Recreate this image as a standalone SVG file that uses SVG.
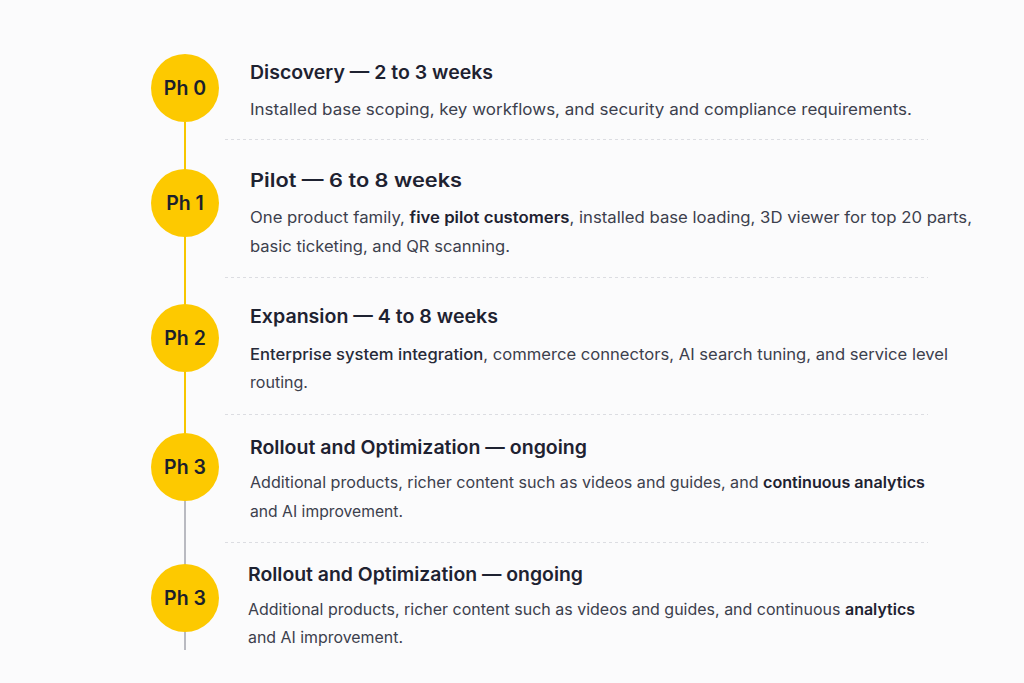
<svg xmlns="http://www.w3.org/2000/svg" width="1024" height="683" viewBox="0 0 1024 683">
<style>
.bg{fill:#fbfbfc}
.dot{fill:#fdc900}
.ph{font-family:Inter,"Noto Sans",sans-serif;font-size:19.5px;font-weight:600;fill:#1b1f2c;text-anchor:middle}
.t{font-family:Inter,"Noto Sans",sans-serif;font-size:18.5px;font-weight:600;fill:#1e2231}
.b{font-family:Inter,"Noto Sans",sans-serif;font-size:15.5px;font-weight:400;fill:#3c404d}
.s{font-weight:600;fill:#1e2231}
.m{font-weight:500;fill:#262a38}
.sep{stroke:#dcdde2;stroke-width:1;stroke-dasharray:3 3}
.ly{stroke:#f7c600;stroke-width:2}
.lg{stroke:#b9bac1;stroke-width:2}
</style>
<rect class="bg" x="0" y="0" width="1024" height="683"/>
<g id="connectors">
<line class="ly" x1="185" y1="122" x2="185" y2="170"/>
<line class="ly" x1="185" y1="236" x2="185" y2="305"/>
<line class="ly" x1="185" y1="371" x2="185" y2="434"/>
<line class="lg" x1="185" y1="500" x2="185" y2="565"/>
<line class="lg" x1="185" y1="631" x2="185" y2="650"/>
</g>
<g id="separators">
<line class="sep" x1="225" y1="139.5" x2="928" y2="139.5"/>
<line class="sep" x1="225" y1="277.5" x2="928" y2="277.5"/>
<line class="sep" x1="225" y1="414.5" x2="928" y2="414.5"/>
<line class="sep" x1="225" y1="542.5" x2="928" y2="542.5"/>
</g>
<g id="ph0">
<circle class="dot" cx="185" cy="88" r="34"/>
<text class="ph" x="185" y="95">Ph 0</text>
<text class="t" x="250" y="79" textLength="243" lengthAdjust="spacingAndGlyphs">Discovery — 2 to 3 weeks</text>
<text class="b" x="250" y="115" textLength="662" lengthAdjust="spacingAndGlyphs">Installed base scoping, key workflows, and security and compliance requirements.</text>
</g>
<g id="ph1">
<circle class="dot" cx="185" cy="203" r="34"/>
<text class="ph" x="185" y="210">Ph 1</text>
<text class="t" x="250" y="187" textLength="212" lengthAdjust="spacingAndGlyphs">Pilot — 6 to 8 weeks</text>
<text class="b" x="250" y="223" textLength="722" lengthAdjust="spacingAndGlyphs">One product family, <tspan class="s">five pilot customers</tspan>, installed base loading, 3D viewer for top 20 parts,</text>
<text class="b" x="250" y="252" textLength="260" lengthAdjust="spacingAndGlyphs">basic ticketing, and QR scanning.</text>
</g>
<g id="ph2">
<circle class="dot" cx="185" cy="338" r="34"/>
<text class="ph" x="185" y="345">Ph 2</text>
<text class="t" x="250" y="323" textLength="248" lengthAdjust="spacingAndGlyphs">Expansion — 4 to 8 weeks</text>
<text class="b" x="250" y="360" textLength="698" lengthAdjust="spacingAndGlyphs"><tspan class="m">Enterprise system integration</tspan>, commerce connectors, AI search tuning, and service level</text>
<text class="b" x="250" y="388" textLength="58" lengthAdjust="spacingAndGlyphs">routing.</text>
</g>
<g id="ph3">
<circle class="dot" cx="185" cy="467" r="34"/>
<text class="ph" x="185" y="474">Ph 3</text>
<text class="t" x="250" y="454" textLength="337" lengthAdjust="spacingAndGlyphs">Rollout and Optimization — ongoing</text>
<text class="b" x="250" y="488" textLength="675" lengthAdjust="spacingAndGlyphs">Additional products, richer content such as videos and guides, and <tspan class="s">continuous analytics</tspan></text>
<text class="b" x="250" y="517" textLength="153" lengthAdjust="spacingAndGlyphs">and AI improvement.</text>
</g>
<g id="ph3b">
<circle class="dot" cx="185" cy="598" r="34"/>
<text class="ph" x="185" y="605">Ph 3</text>
<text class="t" x="248" y="581" textLength="335" lengthAdjust="spacingAndGlyphs">Rollout and Optimization — ongoing</text>
<text class="b" x="248" y="615" textLength="667" lengthAdjust="spacingAndGlyphs">Additional products, richer content such as videos and guides, and continuous <tspan class="s">analytics</tspan></text>
<text class="b" x="248" y="643" textLength="155" lengthAdjust="spacingAndGlyphs">and AI improvement.</text>
</g>
</svg>
